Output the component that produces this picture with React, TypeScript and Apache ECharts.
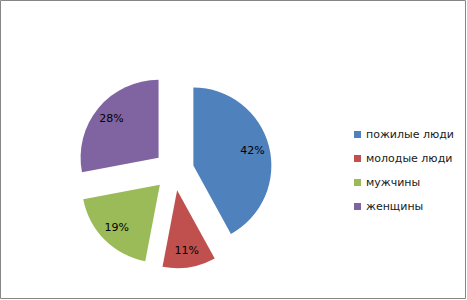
import React, { useEffect, useRef } from "react";
import * as echarts from "echarts";

const categories = ["пожилые люди", "молодые люди", "мужчины", "женщины"];
const values = [42, 11, 19, 28];
const colors = ["#4F81BD", "#C0504D", "#9BBB59", "#8064A2"];

export default function App() {
  const ref = useRef<HTMLDivElement>(null);
  useEffect(() => {
    document.body.style.margin = "0";
    const chart = echarts.init(ref.current!, null, { renderer: "svg" });
    const data = categories.map((name, i) => ({
      name,
      value: values[i],
      selected: true,
      itemStyle: { color: colors[i] },
    }));
    const labelData = categories.map((name, i) => ({
      name,
      value: values[i],
      selected: true,
    }));
    chart.setOption({
      animation: false,
      backgroundColor: "#ffffff",
      legend: {
        orient: "vertical",
        left: 354,
        top: 129,
        padding: 0,
        icon: "rect",
        itemWidth: 7,
        itemHeight: 7,
        itemGap: 13,
        selectedMode: false,
        data: categories,
        textStyle: {
          fontFamily: "DejaVu Sans",
          fontSize: 11,
          color: "#1a1a1a",
        },
      },
      graphic: [
        {
          type: "rect",
          shape: { x: 0.5, y: 0.5, width: 465, height: 298 },
          style: { fill: "none", stroke: "#868686", lineWidth: 1 },
          silent: true,
        },
      ],
      series: [
        {
          type: "pie",
          center: [174, 170.5],
          radius: [0, 78],
          startAngle: 90,
          clockwise: true,
          selectedMode: "multiple",
          selectedOffset: 20,
          label: { show: false },
          labelLine: { show: false },
          emphasis: { disabled: true },
          data,
        },
        {
          type: "pie",
          center: [174, 170.5],
          radius: [38, 78],
          startAngle: 90,
          clockwise: true,
          selectedMode: "multiple",
          selectedOffset: 20,
          silent: true,
          itemStyle: { color: "rgba(0,0,0,0)" },
          label: {
            show: true,
            position: "inside",
            formatter: "{d}%",
            fontFamily: "DejaVu Sans",
            fontSize: 11,
            color: "#000",
          },
          labelLine: { show: false },
          emphasis: { disabled: true },
          data: labelData,
        },
      ],
    });
    return () => chart.dispose();
  }, []);
  return <div ref={ref} style={{ width: 467, height: 300 }} />;
}
